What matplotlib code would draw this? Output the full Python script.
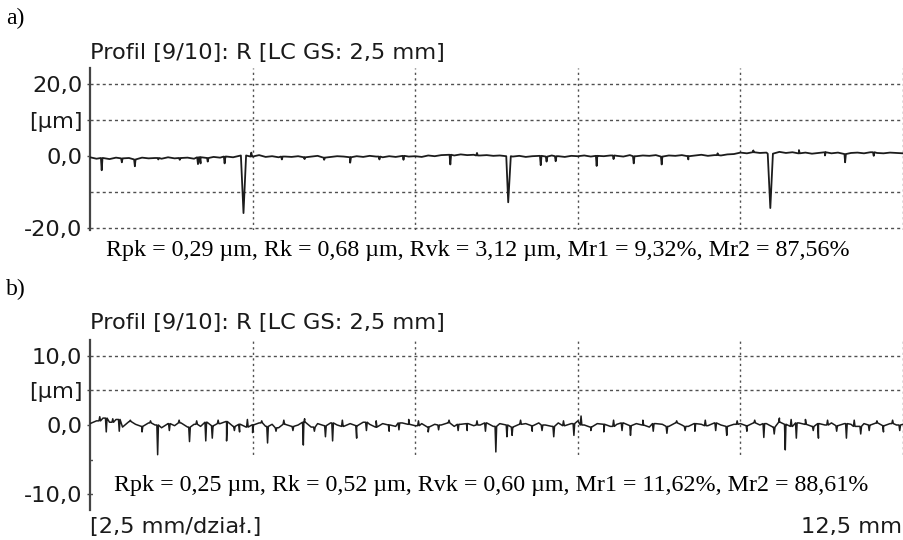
import numpy as np
import matplotlib
matplotlib.use("Agg")
import matplotlib.pyplot as plt
from matplotlib.patches import Rectangle

# ---------------- data ----------------
profile_len_mm = 12.5
x_div_mm = [2.5, 5.0, 7.5, 10.0, 12.5]
base_step_mm = 0.1

# panel a) baseline of the roughness profile, one value per 0.1 mm [µm]
base_a = [
    -0.3, -0.7, -0.5, -0.8, -0.4, -0.6, -0.5, -0.9, -0.4, -0.6,
    -0.5, -0.7, -0.3, -0.6, -0.5, -0.4, -0.7, -0.3, -0.5, -0.2,
    -0.4, -0.1, -0.3, 0.1, 0.2, -0.1, 0.3, -0.2, 0.0, -0.3,
    -0.1, -0.2, 0.0, -0.3, -0.1, 0.1, -0.4, -0.2, 0.0, -0.1,
    -0.3, 0.0, -0.2, 0.1, -0.1, -0.3, 0.0, -0.2, 0.1, -0.1,
    0.0, -0.2, 0.2, 0.0, 0.3, 0.4, 0.2, 0.5, 0.3, 0.4,
    0.2, 0.3, 0.1, 0.2, 0.0, -0.1, 0.1, -0.2, 0.0, 0.1,
    -0.1, 0.2, 0.0, -0.2, 0.1, 0.0, 0.2, -0.1, 0.1, 0.0,
    0.2, 0.1, -0.1, 0.3, 0.0, 0.2, 0.1, 0.3, -0.1, 0.2,
    0.1, 0.3, 0.0, 0.2, 0.4, 0.1, 0.3, 0.2, 0.5, 0.6,
    1.0, 0.8, 1.1, 0.9, 1.0, 0.7, 1.2, 0.9, 1.1, 0.8,
    1.0, 0.7, 0.9, 1.1, 0.8, 1.0, 0.6, 0.9, 1.0, 0.8,
    1.1, 0.9, 0.8, 1.0, 0.9, 0.8,
]
# panel a) valleys / peaks: position [mm], height [µm]
feat_a_pos = [0.18, 0.49, 0.69, 1.05, 1.38, 1.66, 1.70, 1.81, 2.07, 2.36,
              2.48, 2.95, 3.30, 3.60, 4.00, 4.45, 4.82, 5.54, 5.95, 6.43,
              6.93, 7.02, 7.16, 7.79, 8.05, 8.36, 8.79, 9.20, 9.65, 10.20,
              10.46, 10.90, 11.30, 11.61, 12.05]
feat_a_val = [-3.9, -1.7, -2.8, -0.9, -1.0, -2.2, -2.0, -1.5, -2.0, -15.8,
              1.0, -0.9, -0.8, -1.0, -1.8, -0.9, -1.0, -2.3, 0.9, -12.8,
              -2.5, -1.5, -1.4, -2.7, -0.8, -2.0, -2.3, -0.9, 0.8, 1.6,
              -14.4, 1.7, 0.2, -1.7, 0.1]

# panel b) baseline [µm]
base_b = [
    0.2, 0.6, 1.0, 0.4, 0.8, -0.3, 0.5, 0.1, -0.2, 0.3,
    0.0, -0.4, 0.2, -0.1, 0.3, -0.3, 0.1, -0.2, 0.4, -0.1,
    0.2, 0.5, -0.2, 0.1, -0.3, 0.0, 0.3, -0.2, 0.1, -0.4,
    0.1, -0.2, 0.0, 0.4, -0.3, 0.2, -0.1, 0.3, 0.0, -0.2,
    0.2, -0.1, 0.4, 0.1, -0.3, 0.2, 0.0, -0.2, 0.3, 0.1,
    -0.1, 0.2, -0.3, 0.1, 0.0, 0.3, -0.2, 0.1, 0.2, -0.1,
    0.0, 0.3, -0.2, 0.2, 0.0, -0.3, 0.1, 0.2, -0.1, 0.3,
    0.0, -0.2, 0.3, -0.1, 0.2, 0.6, 0.0, -0.3, 0.2, 0.1,
    -0.2, 0.1, 0.3, -0.1, 0.2, 0.0, -0.3, 0.2, 0.1, -0.2,
    0.3, 0.0, -0.2, 0.2, 0.1, -0.1, 0.3, 0.0, -0.2, 0.1,
    0.2, -0.1, 0.3, 0.0, 0.2, -0.3, 0.4, 0.1, -0.2, 0.3,
    0.1, -0.2, 0.2, 0.0, 0.3, -0.1, 0.2, 0.1, -0.2, 0.2,
    0.0, 0.3, -0.1, 0.2, 0.0, 0.1,
]
feat_b_pos = [0.15, 0.25, 0.35, 0.45, 0.62, 0.80, 0.93, 1.04, 1.22, 1.37,
              1.53, 1.64, 1.78, 1.88, 1.97, 2.10, 2.22, 2.30, 2.42, 2.50,
              2.64, 2.73, 2.86, 2.98, 3.12, 3.28, 3.30, 3.45, 3.62, 3.73,
              3.88, 4.10, 4.25, 4.40, 4.60, 4.75, 4.90, 5.05, 5.20, 5.36,
              5.52, 5.66, 5.80, 5.95, 6.08, 6.24, 6.41, 6.49, 6.62, 6.80,
              6.95, 7.13, 7.28, 7.44, 7.55, 7.70, 7.90, 8.05, 8.18, 8.31,
              8.50, 8.66, 8.87, 9.02, 9.15, 9.30, 9.46, 9.62, 9.79, 9.95,
              10.10, 10.22, 10.36, 10.52, 10.60, 10.69, 10.78, 10.86, 11.00,
              11.12, 11.20, 11.34, 11.48, 11.63, 11.75, 11.85, 11.98, 12.10,
              12.20, 12.34, 12.45]
feat_b_val = [1.2, -1.0, 0.9, -0.9, 0.7, -1.0, 0.6, -4.3, -0.8, 0.7,
              -2.4, 0.6, -2.3, -1.9, 0.7, -2.3, -0.8, -1.0, 0.8, -1.1,
              0.6, -2.6, -0.9, 0.7, -0.8, -2.9, 0.9, -0.9, -1.7, -2.3,
              0.7, -1.9, -0.8, 0.6, -0.9, -0.7, 0.8, 0.6, -1.0, -0.7,
              0.7, -0.8, -0.8, 0.6, -0.9, -3.9, -1.7, -1.5, 0.7, -0.9,
              -0.8, -1.7, 0.6, -1.5, 1.3, -0.8, -1.0, 0.7, -0.8, -1.5,
              0.7, -0.9, -1.2, 0.6, -0.8, -0.9, 0.7, -0.8, -1.5, 0.6,
              -0.9, 0.7, -1.8, -1.3, 1.0, -3.6, 0.8, -1.9, 0.8,
              -0.8, -1.9, 0.7, -0.9, -1.9, 0.7, -1.3, -0.8, 0.6,
              -1.0, 0.7, -0.8]

title_txt = "Profil [9/10]: R [LC GS: 2,5 mm]"
stats_a = ("Rpk = 0,29 \u00b5m, Rk = 0,68 \u00b5m, Rvk = 3,12 \u00b5m, "
           "Mr1 = 9,32%, Mr2 = 87,56%")
stats_b = ("Rpk = 0,25 \u00b5m, Rk = 0,52 \u00b5m, Rvk = 0,60 \u00b5m, "
           "Mr1 = 11,62%, Mr2 = 88,61%")

yticks_a = [20, 10, 0, -20]
ylabels_a = ["20,0", "[\u00b5m]", "0,0", "-20,0"]
ygrid_a = [20, 10, -10, -20]
ylim_a = (-20.5, 24.5)

yticks_b = [10, 5, 0, -10]
ylabels_b = ["10,0", "[\u00b5m]", "0,0", "-10,0"]
ygrid_b = [10, 5, -5, -10]
ylim_b = (-12.3, 12.3)


def build_profile(base, pos, val):
    """Merge the sampled baseline with narrow valleys/peaks."""
    xb = np.arange(len(base)) * base_step_mm
    zb = np.asarray(base, dtype=float)
    xs, zs = list(xb), list(zb)
    for p, v in zip(pos, val):
        ref = zb[int(round(p / base_step_mm))]
        w = 0.04 if abs(v) > 6 else 0.012
        xs += [p - w, p, p + w]
        zs += [ref, v, ref]
    order = np.argsort(xs, kind="stable")
    return np.asarray(xs)[order], np.asarray(zs)[order]


SANS = ["DejaVu Sans"]
SERIF = ["Liberation Serif", "DejaVu Serif"]
GRID_C = "#505050"
TXT_C = "#1a1a1a"
SANS_SIZE = 16.2

fig = plt.figure(figsize=(9.04, 5.40), dpi=100)
W, H = 904, 540


def axes_box(left, top, right, bottom):
    return [left / W, 1 - bottom / H, (right - left) / W, (bottom - top) / H]


def style_axes(ax, yticks, ylabels, ygrid, ylim):
    ax.set_xlim(0, profile_len_mm)
    ax.set_ylim(*ylim)
    for s in ("top", "right", "bottom"):
        ax.spines[s].set_visible(False)
    ax.spines["left"].set_color("#444444")
    ax.spines["left"].set_linewidth(1.6)
    ax.set_xticks([])
    ax.set_yticks(yticks)
    ax.set_yticklabels(ylabels, family=SANS, fontsize=SANS_SIZE, color=TXT_C)
    ax.tick_params(axis="y", length=2, width=1, color="#444444", pad=3.5)
    for g in ygrid:
        ax.axhline(g, color=GRID_C, lw=1.0, ls=(0, (2.2, 2.2)), zorder=1)
    for g in x_div_mm:
        ax.axvline(g, color=GRID_C, lw=1.0, ls=(0, (1.6, 2.4)), zorder=1)


# panel a
ax_a = fig.add_axes(axes_box(90, 68, 903, 230))
style_axes(ax_a, yticks_a, ylabels_a, ygrid_a, ylim_a)
xa, za = build_profile(base_a, feat_a_pos, feat_a_val)
ax_a.plot(xa, za, color="#1c1c1c", lw=1.3, zorder=3)

# panel b
ax_b = fig.add_axes(axes_box(90, 340, 903, 510))
style_axes(ax_b, yticks_b, ylabels_b, ygrid_b, ylim_b)
xb_, zb_ = build_profile(base_b, feat_b_pos, feat_b_val)
ax_b.plot(xb_, zb_, color="#1c1c1c", lw=1.1, zorder=3)
ax_b.add_patch(Rectangle((0.004, 0), 1.0, (-4.75 - ylim_b[0]) / (ylim_b[1] - ylim_b[0]),
                         transform=ax_b.transAxes, facecolor="white",
                         edgecolor="none", zorder=4, clip_on=False))

# text
fig.text(6 / W, 1 - 18 / H, "a)", family=SERIF, fontsize=17, color="black",
         ha="left", va="center")
fig.text(6 / W, 1 - 289 / H, "b)", family=SERIF, fontsize=17, color="black",
         ha="left", va="center")
fig.text(90 / W, 1 - 53 / H, title_txt, family=SANS, fontsize=SANS_SIZE,
         color=TXT_C, ha="left", va="center")
fig.text(90 / W, 1 - 323 / H, title_txt, family=SANS, fontsize=SANS_SIZE,
         color=TXT_C, ha="left", va="center")
fig.text(478 / W, 1 - 250 / H, stats_a, family=SERIF, fontsize=17.3,
         color="black", ha="center", va="center")
fig.text(491 / W, 1 - 485 / H, stats_b, family=SERIF, fontsize=17.3,
         color="black", ha="center", va="center", zorder=10)
fig.text(90 / W, 1 - 527 / H, "[2,5 mm/dzia\u0142.]", family=SANS,
         fontsize=SANS_SIZE, color=TXT_C, ha="left", va="center")
fig.text(902 / W, 1 - 527 / H, "12,5 mm", family=SANS, fontsize=SANS_SIZE,
         color=TXT_C, ha="right", va="center")

fig.savefig("out.png", dpi=100, facecolor="white")
